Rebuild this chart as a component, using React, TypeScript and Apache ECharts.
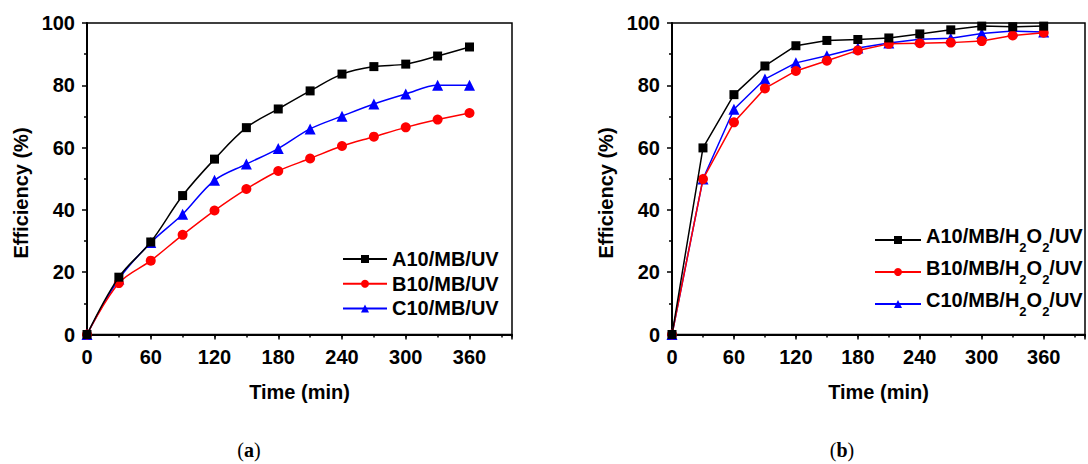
import React, { useEffect, useRef } from "react";
import * as echarts from "echarts";

const times = [0, 30, 60, 90, 120, 150, 180, 210, 240, 270, 300, 330, 360];

const namesA = ["A10/MB/UV", "B10/MB/UV", "C10/MB/UV"];
const a_A10 = [0, 18.4, 29.7, 44.6, 56.3, 66.4, 72.4, 78.2, 83.6, 86.0, 86.8, 89.4, 92.3];
const a_B10 = [0, 16.5, 23.7, 32.0, 39.8, 46.7, 52.5, 56.5, 60.5, 63.5, 66.5, 69.0, 71.1];
const a_C10 = [0, 17.8, 29.5, 38.6, 49.5, 54.7, 59.7, 66.0, 70.1, 74.0, 77.2, 80.0, 80.0];

const namesB = ["A10/MB/H2O2/UV", "B10/MB/H2O2/UV", "C10/MB/H2O2/UV"];
const b_A10 = [0, 59.9, 77.0, 86.2, 92.7, 94.4, 94.7, 95.2, 96.5, 97.8, 99.0, 98.8, 99.0];
const b_B10 = [0, 49.9, 68.1, 79.0, 84.6, 87.9, 91.2, 93.3, 93.5, 93.7, 94.2, 96.0, 96.9];
const b_C10 = [0, 49.9, 72.3, 82.0, 87.2, 89.5, 92.0, 93.6, 94.8, 95.1, 96.6, 97.4, 97.1];

const xTitle = "Time (min)";
const yTitle = "Efficiency (%)";
const captions = ["a", "b"];

const colors = ["#000000", "#ff0000", "#0000ff"];
const symbols = ["rect", "circle", "triangle"];
const symbolSizes = [9, 10, 11];

const FONT = "'Liberation Sans', Arial, sans-serif";
const SERIF = "'Liberation Serif', 'DejaVu Serif', serif";

export default function App() {
  const ref = useRef<HTMLDivElement>(null);
  useEffect(() => {
    document.body.style.margin = "0";
    const chart = echarts.init(ref.current!, null, { renderer: "svg" });

    const pair = (ys: number[]) => times.map((t, i) => [t, ys[i]]);
    const gridTop = 23;
    const gridH = 311.5;
    const gridW = 425;
    const gridLefts = [87, 672];
    const grids = gridLefts.map((left) => ({
      left,
      top: gridTop,
      width: gridW,
      height: gridH,
      show: true,
      borderColor: "#000",
      borderWidth: 1.5,
      backgroundColor: "transparent",
    }));

    const labelStyle = { color: "#000", fontFamily: FONT, fontWeight: "bold" as const, fontSize: 20 };

    const xAxes: any[] = [];
    const yAxes: any[] = [];
    [0, 1].forEach((gi) => {
      xAxes.push({
        type: "value",
        gridIndex: gi,
        min: 0,
        max: 400,
        interval: 60,
        name: xTitle,
        nameLocation: "middle",
        nameGap: 47,
        nameTextStyle: { ...labelStyle },
        axisLine: { show: true, onZero: false, lineStyle: { color: "#000", width: 2 } },
        axisTick: { show: true, inside: false, length: 5, lineStyle: { color: "#000", width: 1.5 } },
        axisLabel: {
          ...labelStyle,
          margin: 12,
          formatter: (v: number) => (v > 360 ? "" : String(v)),
        },
        splitLine: { show: false },
      });
      xAxes.push({
        type: "value",
        gridIndex: gi,
        min: 0,
        max: 400,
        interval: 30,
        position: "bottom",
        axisLine: { show: false },
        axisTick: { show: true, inside: false, length: 3, lineStyle: { color: "#000", width: 1.5 } },
        axisLabel: { show: false },
        splitLine: { show: false },
      });
      yAxes.push({
        type: "value",
        gridIndex: gi,
        min: 0,
        max: 100,
        interval: 20,
        axisLine: { show: true, onZero: false, lineStyle: { color: "#000", width: 2 } },
        axisTick: { show: true, inside: false, length: 5, lineStyle: { color: "#000", width: 1.5 } },
        minorTick: { show: true, splitNumber: 2, length: 3, lineStyle: { color: "#000", width: 1.5 } },
        axisLabel: { ...labelStyle, margin: 12 },
        splitLine: { show: false },
        minorSplitLine: { show: false },
      });
    });

    const mk = (name: string, data: number[], k: number, gi: number, smooth: boolean | number) => ({
      type: "line",
      name,
      xAxisIndex: gi * 2,
      yAxisIndex: gi,
      data: pair(data),
      smooth,
      symbol: symbols[k],
      symbolSize: symbolSizes[k],
      showAllSymbol: true,
      itemStyle: { color: colors[k] },
      lineStyle: { color: colors[k], width: 1.5 },
      z: 3 - k,
    });

    const series = [
      mk(namesA[0], a_A10, 0, 0, 0.35),
      mk(namesA[1], a_B10, 1, 0, 0.35),
      mk(namesA[2], a_C10, 2, 0, 0.35),
      mk(namesB[0], b_A10, 0, 1, false),
      mk(namesB[1], b_B10, 1, 1, false),
      mk(namesB[2], b_C10, 2, 1, false),
    ];

    const legendText = { color: "#000", fontFamily: FONT, fontWeight: "bold" as const, fontSize: 20 };

    const yTitleText = (x: number) => ({
      type: "text",
      x,
      y: 193,
      rotation: Math.PI / 2,
      style: {
        text: yTitle,
        fill: "#000",
        fontFamily: FONT,
        fontWeight: "bold",
        fontSize: 20,
        align: "center",
        verticalAlign: "middle",
      },
    });

    const caption = (x: number, c: string) => ({
      type: "text",
      x,
      y: 450,
      style: {
        text: `({b|${c}})`,
        fill: "#000",
        fontFamily: SERIF,
        fontSize: 20,
        align: "center",
        verticalAlign: "middle",
        rich: { b: { fontWeight: "bold", fontSize: 20, fontFamily: SERIF, fill: "#000" } },
      },
    });

    chart.setOption({
      animation: false,
      backgroundColor: "#fff",
      grid: grids,
      xAxis: xAxes,
      yAxis: yAxes,
      series,
      legend: [
        {
          data: namesA,
          orient: "vertical",
          left: 337,
          top: 244,
          itemWidth: 44,
          itemHeight: 10,
          itemGap: 4.7,
          textStyle: legendText,
          selectedMode: false,
        },
        {
          data: namesB,
          orient: "vertical",
          left: 869,
          top: 221,
          itemWidth: 46,
          itemHeight: 10,
          itemGap: 4,
          selectedMode: false,
          formatter: (n: string) => {
            const parts = n.split("H2O2");
            return `{a|${parts[0]}H}{s|2}{a|O}{s|2}{a|${parts[1]}}`;
          },
          textStyle: {
            ...legendText,
            rich: {
              a: { ...legendText, lineHeight: 28, verticalAlign: "top" },
              s: { ...legendText, fontSize: 13, lineHeight: 28, verticalAlign: "bottom" },
            },
          },
        },
      ],
      graphic: [yTitleText(21), yTitleText(606), caption(249, captions[0]), caption(842, captions[1])],
    });
    return () => chart.dispose();
  }, []);
  return <div ref={ref} style={{ width: 1088, height: 464 }} />;
}
